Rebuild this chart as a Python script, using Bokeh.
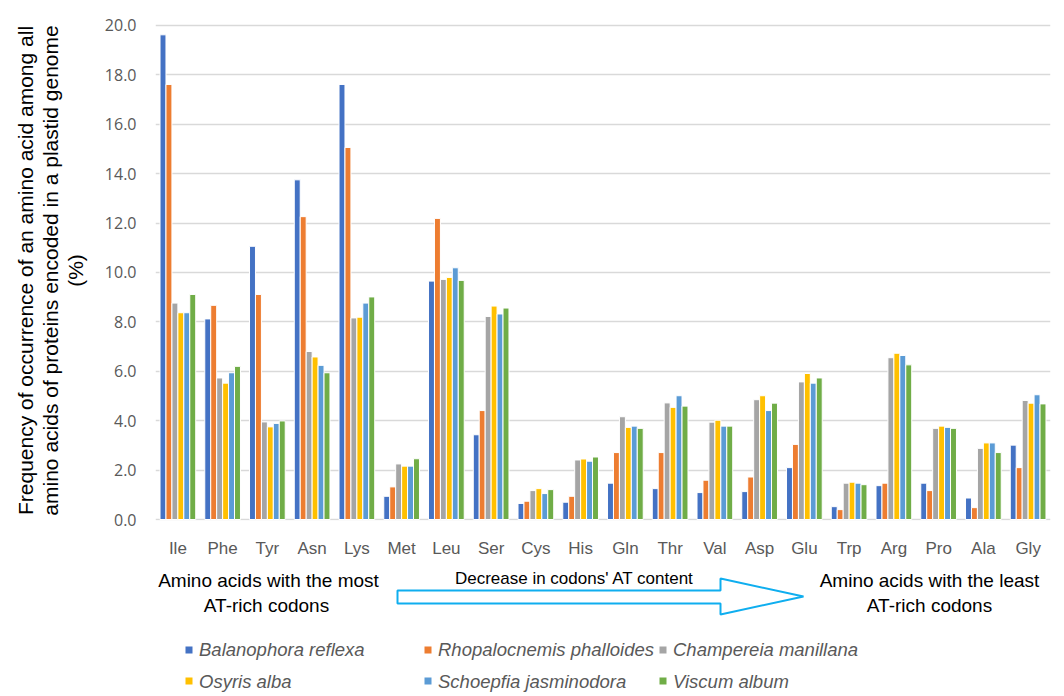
from bokeh.plotting import figure
from bokeh.layouts import column
from bokeh.models import (FactorRange, Range1d, FixedTicker, NumeralTickFormatter, Label,
                          PolyAnnotation, BoxAnnotation, Legend, LegendItem, ColumnDataSource)
from bokeh.transform import dodge
from bokeh.embed import file_html
from bokeh.resources import INLINE

amino = ["Ile", "Phe", "Tyr", "Asn", "Lys", "Met", "Leu", "Ser", "Cys", "His",
         "Gln", "Thr", "Val", "Asp", "Glu", "Trp", "Arg", "Pro", "Ala", "Gly"]
species = ["Balanophora reflexa", "Rhopalocnemis phalloides", "Champereia manillana",
           "Osyris alba", "Schoepfia jasminodora", "Viscum album"]
balanophora = [19.62, 8.12, 11.06, 13.75, 17.61, 0.94, 9.65, 3.43, 0.65, 0.70,
               1.47, 1.25, 1.09, 1.13, 2.10, 0.52, 1.37, 1.47, 0.87, 3.01]
rhopalocnemis = [17.61, 8.67, 9.11, 12.26, 15.06, 1.32, 12.19, 4.41, 0.74, 0.94,
                 2.71, 2.71, 1.59, 1.72, 3.04, 0.40, 1.47, 1.17, 0.48, 2.10]
champereia = [8.76, 5.73, 3.95, 6.80, 8.16, 2.25, 9.72, 8.22, 1.17, 2.41,
              4.16, 4.72, 3.94, 4.85, 5.57, 1.47, 6.55, 3.69, 2.88, 4.82]
osyris = [8.37, 5.52, 3.75, 6.58, 8.19, 2.16, 9.80, 8.64, 1.25, 2.45,
          3.73, 4.54, 4.02, 5.01, 5.91, 1.51, 6.73, 3.78, 3.10, 4.71]
schoepfia = [8.37, 5.94, 3.89, 6.24, 8.76, 2.16, 10.19, 8.32, 1.05, 2.36,
             3.78, 5.01, 3.78, 4.41, 5.52, 1.47, 6.64, 3.73, 3.10, 5.05]
viscum = [9.11, 6.20, 3.99, 5.94, 9.01, 2.46, 9.68, 8.56, 1.21, 2.53,
          3.69, 4.59, 3.78, 4.71, 5.73, 1.41, 6.26, 3.69, 2.71, 4.68]
colors = ["#4472C4", "#ED7D31", "#A5A5A5", "#FFC000", "#5B9BD5", "#70AD47"]
y_ticks = [0, 2, 4, 6, 8, 10, 12, 14, 16, 18, 20]

series = [balanophora, rhopalocnemis, champereia, osyris, schoepfia, viscum]
keys = ["s0", "s1", "s2", "s3", "s4", "s5"]
data = {"amino": amino}
for k, s in zip(keys, series):
    data[k] = s
source = ColumnDataSource(data)

W = 1064
H1 = 560
H2 = 136
FL = 155  # page x of the plot frame's left edge (both panels share it)

p = figure(width=W, height=H1, x_range=FactorRange(*amino, range_padding=0),
           y_range=Range1d(-0.04, 20.2), output_backend="svg", toolbar_location=None,
           min_border_left=FL, min_border_right=W - 1050, min_border_top=20,
           min_border_bottom=40)
p.outline_line_color = None

step = 0.133
for i, (k, c) in enumerate(zip(keys, colors)):
    p.vbar(x=dodge("amino", (i - 2.5) * step, range=p.x_range), top=k, bottom=0,
           width=step, source=source, fill_color=c, line_color="white", line_width=1)

p.xgrid.grid_line_color = None
p.ygrid.ticker = FixedTicker(ticks=y_ticks)
p.ygrid.grid_line_color = "#D9D9D9"
p.ygrid.grid_line_width = 1.3

p.yaxis.ticker = FixedTicker(ticks=y_ticks)
p.yaxis.formatter = NumeralTickFormatter(format="0.0")
p.yaxis.axis_line_color = None
p.yaxis.major_tick_line_color = None
p.yaxis.major_tick_out = 0
p.yaxis.minor_tick_line_color = None
p.yaxis.minor_tick_out = 0
p.yaxis.major_label_text_font = "Open Sans"
p.yaxis.major_label_text_font_size = "16px"
p.yaxis.major_label_text_color = "#595959"
p.yaxis.major_label_standoff = 19
p.yaxis.axis_label = ("Frequency of occurrence of an amino acid among all\n"
                      "amino acids of proteins encoded in a plastid genome\n"
                      "(%)")
p.yaxis.axis_label_text_font = "Liberation Sans"
p.yaxis.axis_label_text_font_style = "normal"
p.yaxis.axis_label_text_font_size = "21px"
p.yaxis.axis_label_text_color = "black"
p.yaxis.axis_label_text_line_height = 1.08
p.yaxis.axis_label_standoff = 15

p.xaxis.axis_line_color = None
p.xaxis.major_tick_line_color = None
p.xaxis.major_tick_out = 0
p.xaxis.minor_tick_line_color = None
p.xaxis.minor_tick_out = 0
p.xaxis.major_label_text_font = "Liberation Sans"
p.xaxis.major_label_text_font_size = "17px"
p.xaxis.major_label_text_color = "#595959"
p.xaxis.major_label_standoff = 18

# Lower panel: annotations and legend (its frame is aligned with the chart frame)
p2 = figure(width=W, height=H2, x_range=Range1d(0, 100), y_range=Range1d(0, 100),
            output_backend="svg", toolbar_location=None,
            min_border_left=0, min_border_right=0, min_border_top=0, min_border_bottom=0)
p2.xaxis.visible = False
p2.yaxis.visible = False
p2.grid.visible = False
p2.outline_line_color = None


def sx(page_x):
    return page_x - FL


def sy(page_y):
    return H1 + H2 - page_y


notes = [("Amino acids with the most", 268, 580),
         ("AT-rich codons", 266, 605),
         ("Amino acids with the least", 929, 580),
         ("AT-rich codons", 929, 605)]
for t, x, y in notes:
    p2.add_layout(Label(x=sx(x), y=sy(y), x_units="screen", y_units="screen", text=t,
                        text_align="center", text_baseline="middle",
                        text_font="Liberation Sans", text_font_size="19px",
                        text_color="black"))

arrow_x = [397, 720, 720, 803, 720, 720, 397]
arrow_y = [590, 590, 578, 596, 614, 603, 603]
p2.add_layout(PolyAnnotation(xs=[sx(x) for x in arrow_x], ys=[sy(y) for y in arrow_y],
                             xs_units="screen", ys_units="screen",
                             fill_color="white", fill_alpha=1.0,
                             line_color="#0FAEEF", line_alpha=1.0, line_width=2))
p2.add_layout(Label(x=sx(574), y=sy(578), x_units="screen", y_units="screen",
                    text="Decrease in codons' AT content", text_align="center",
                    text_baseline="middle", text_font="Liberation Sans",
                    text_font_size="17px", text_color="black"))

# legend: text entries via Legend, colour swatches drawn as exact squares
legend_renderers = [p2.scatter(x=[-50], y=[-50], marker="square", size=7,
                               fill_color=c, fill_alpha=0, line_color=None)
                    for c in colors]
cols = [(0, 3, 185), (1, 4, 424), (2, 5, 659)]
row_tops = [646, 677]
for a, b, vx in cols:
    leg = Legend(items=[LegendItem(label=species[a], renderers=[legend_renderers[a]]),
                        LegendItem(label=species[b], renderers=[legend_renderers[b]])],
                 location=(sx(vx), 3), orientation="vertical",
                 label_text_font="Liberation Sans", label_text_font_style="italic",
                 label_text_font_size="18.5px", label_text_color="#595959",
                 glyph_width=7, glyph_height=7, label_standoff=7, spacing=10,
                 label_height=20, padding=0, margin=0,
                 border_line_alpha=0, background_fill_alpha=0)
    p2.add_layout(leg)
    for idx, top in zip((a, b), row_tops):
        p2.add_layout(BoxAnnotation(left=sx(vx), right=sx(vx) + 7,
                                    top=sy(top), bottom=sy(top + 7),
                                    left_units="screen", right_units="screen",
                                    top_units="screen", bottom_units="screen",
                                    fill_color=colors[idx], fill_alpha=1.0,
                                    line_color=None))

layout = column(p, p2, spacing=0)
open("out.html", "w").write(file_html(layout, INLINE))
